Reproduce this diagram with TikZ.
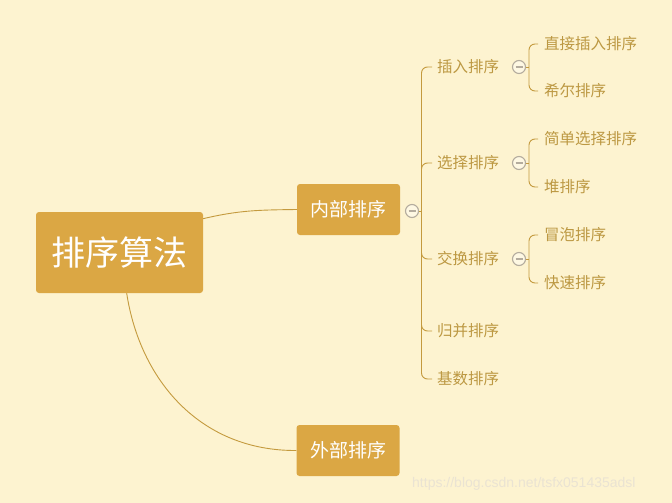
\documentclass[tikz,border=0pt]{standalone}
\usepackage{fontspec}
\newfontfamily\cjk{Noto Sans CJK SC}
\newfontfamily\wm{Liberation Sans}
\definecolor{bg}{HTML}{FDF3D0}
\definecolor{boxfill}{HTML}{DBA744}
\definecolor{leaftext}{HTML}{BC9842}
\definecolor{linecol}{HTML}{C49A3E}
\definecolor{circ}{HTML}{B4AC9E}
\definecolor{wmcol}{HTML}{EAE3D3}
\begin{document}
\begin{tikzpicture}[x=1pt,y=-1pt,
  rootbox/.style={fill=boxfill,rounded corners=3pt,minimum width=167pt,minimum height=81pt,text=white,font=\cjk\fontsize{34}{36}\selectfont,inner sep=0pt},
  midbox/.style={fill=boxfill,rounded corners=3pt,minimum width=103pt,minimum height=51pt,text=white,font=\cjk\fontsize{19}{21}\selectfont,inner sep=0pt},
  leaf/.style={anchor=west,text=leaftext,font=\cjk\fontsize{15.5}{17}\selectfont,inner sep=0pt,outer sep=0pt},
  fold/.style={circle,draw=circ,line width=1.1pt,fill=bg!60!white,minimum size=13pt,inner sep=0pt,
    path picture={\draw[circ,line width=1.1pt]([xshift=3pt]path picture bounding box.west)--([xshift=-3pt]path picture bounding box.east);}},
  conn/.style={draw=linecol,line width=0.9pt},
  hook/.style={conn,rounded corners=6pt}]
\fill[bg] (0,0) rectangle (672,503);
\useasboundingbox (0,0) rectangle (672,503);

\node[rootbox] (root) at (119.5,252.5) {排序算法};
\node[midbox] (inner) at (348.5,209.5) {内部排序};
\node[midbox] (outer) at (348,450.5) {外部排序};
\node[fold] (f0) at (412,211) {};

\draw[conn] (root.22) .. controls (240,210) and (260,210) .. (inner.west);
\draw[conn] (root.-80) .. controls (140,380) and (200,451) .. (outer.west);

% level 1
\coordinate (b0) at (421.5,211);
\node[leaf] (l1) at (437,67) {插入排序};
\node[leaf] (l2) at (437,163) {选择排序};
\node[leaf] (l3) at (437,259) {交换排序};
\node[leaf] (l4) at (437,331) {归并排序};
\node[leaf] (l5) at (437,379) {基数排序};
\draw[conn] (f0.east) -- (b0);
\foreach \n in {l1,l2,l3,l4,l5}{
  \draw[hook] (b0) |- ([xshift=-5pt]\n.west);
}

% level 2
\node[fold] (f1) at (519,67) {};
\node[fold] (f2) at (519,163) {};
\node[fold] (f3) at (519,259) {};
\coordinate (b1) at (529,67);
\coordinate (b2) at (529,163);
\coordinate (b3) at (529,259);
\node[leaf] (m1) at (544,44) {直接插入排序};
\node[leaf] (m2) at (544,91) {希尔排序};
\node[leaf] (m3) at (544,139) {简单选择排序};
\node[leaf] (m4) at (544,187) {堆排序};
\node[leaf] (m5) at (544,235) {冒泡排序};
\node[leaf] (m6) at (544,283) {快速排序};
\draw[conn] (f1.east) -- (b1);
\draw[conn] (f2.east) -- (b2);
\draw[conn] (f3.east) -- (b3);
\draw[hook] (b1) |- ([xshift=-6pt]m1.west);
\draw[hook] (b1) |- ([xshift=-6pt]m2.west);
\draw[hook] (b2) |- ([xshift=-6pt]m3.west);
\draw[hook] (b2) |- ([xshift=-6pt]m4.west);
\draw[hook] (b3) |- ([xshift=-6pt]m5.west);
\draw[hook] (b3) |- ([xshift=-6pt]m6.west);

\node[anchor=west,text=wmcol,font=\wm\fontsize{14}{16}\selectfont,inner sep=0pt] (wmark) at (412,484) {https://blog.csdn.net/tsfx051435adsl};
\end{tikzpicture}
\end{document}
